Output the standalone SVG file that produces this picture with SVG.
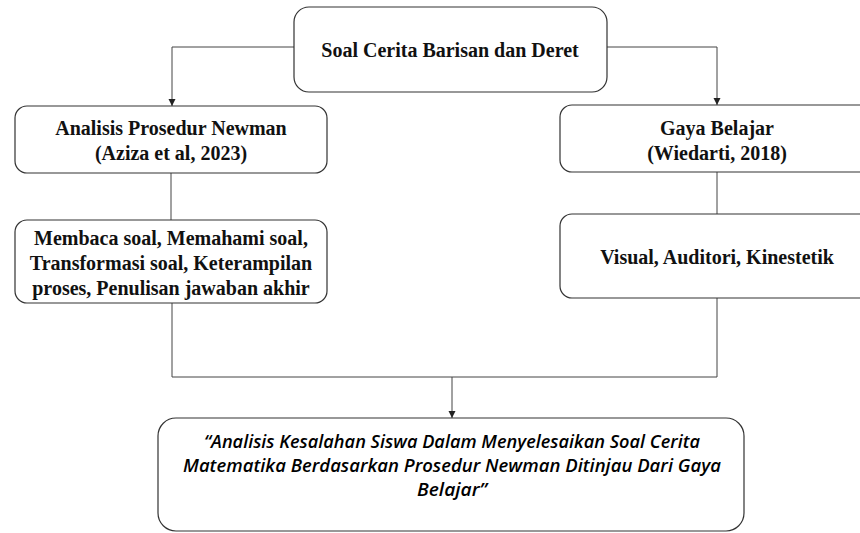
<svg xmlns="http://www.w3.org/2000/svg" width="860" height="533" viewBox="0 0 860 533">
<defs>
<marker id="arr" markerWidth="8" markerHeight="8" refX="7" refY="4" orient="auto" markerUnits="userSpaceOnUse">
<path d="M0,0.5 L7,4 L0,7.5 Z" fill="#222"/>
</marker>
<style>
.box{fill:#fff;stroke:#333;stroke-width:1.2}
.t{font-family:"Liberation Serif","Times New Roman",serif;font-weight:bold;font-size:20px;fill:#111;text-anchor:middle}
.it{font-family:"Open Sans","Liberation Sans",Arial,sans-serif;font-style:italic;font-weight:600;font-size:18.5px;fill:#000;text-anchor:middle}
.c{fill:none;stroke:#444;stroke-width:1}
</style>
</defs>
<rect width="860" height="533" fill="#fff"/>
<g id="connectors">
<path class="c" d="M294,47 H172 V106" marker-end="url(#arr)"/>
<path class="c" d="M607,47 H717 V105" marker-end="url(#arr)"/>
<path class="c" d="M171,173 V220"/>
<path class="c" d="M717,172 V214"/>
<path class="c" d="M172,303 V377 H717 V298"/>
<path class="c" d="M452,377 V418" marker-end="url(#arr)"/>
</g>
<g id="top">
<rect class="box" x="294" y="7" width="313" height="85" rx="15"/>
<text class="t" x="450" y="57">Soal Cerita Barisan dan Deret</text>
</g>
<g id="newman">
<rect class="box" x="15" y="106" width="312" height="67" rx="12"/>
<text class="t" x="171" y="135">Analisis Prosedur Newman</text>
<text class="t" x="171" y="160">(Aziza  et al, 2023)</text>
</g>
<g id="steps">
<rect class="box" x="15" y="220" width="312" height="83" rx="12"/>
<text class="t" x="171" y="245">Membaca soal, Memahami soal,</text>
<text class="t" x="171" y="270">Transformasi  soal, Keterampilan</text>
<text class="t" x="171" y="295">proses, Penulisan jawaban akhir</text>
</g>
<g id="gaya">
<rect class="box" x="560" y="105" width="314" height="67" rx="12"/>
<text class="t" x="717" y="135">Gaya Belajar</text>
<text class="t" x="717" y="160">(Wiedarti, 2018)</text>
</g>
<g id="vak">
<rect class="box" x="560" y="214" width="314" height="84" rx="12"/>
<text class="t" x="717" y="264">Visual, Auditori, Kinestetik</text>
</g>
<g id="result">
<rect class="box" x="158" y="418" width="586" height="113" rx="18"/>
<text class="it" x="452" y="448" textLength="496" lengthAdjust="spacingAndGlyphs">“Analisis Kesalahan Siswa Dalam Menyelesaikan Soal Cerita</text>
<text class="it" x="452" y="472" textLength="538" lengthAdjust="spacingAndGlyphs">Matematika Berdasarkan Prosedur Newman Ditinjau Dari Gaya</text>
<text class="it" x="452" y="496" textLength="70" lengthAdjust="spacingAndGlyphs">Belajar”</text>
</g>
</svg>
